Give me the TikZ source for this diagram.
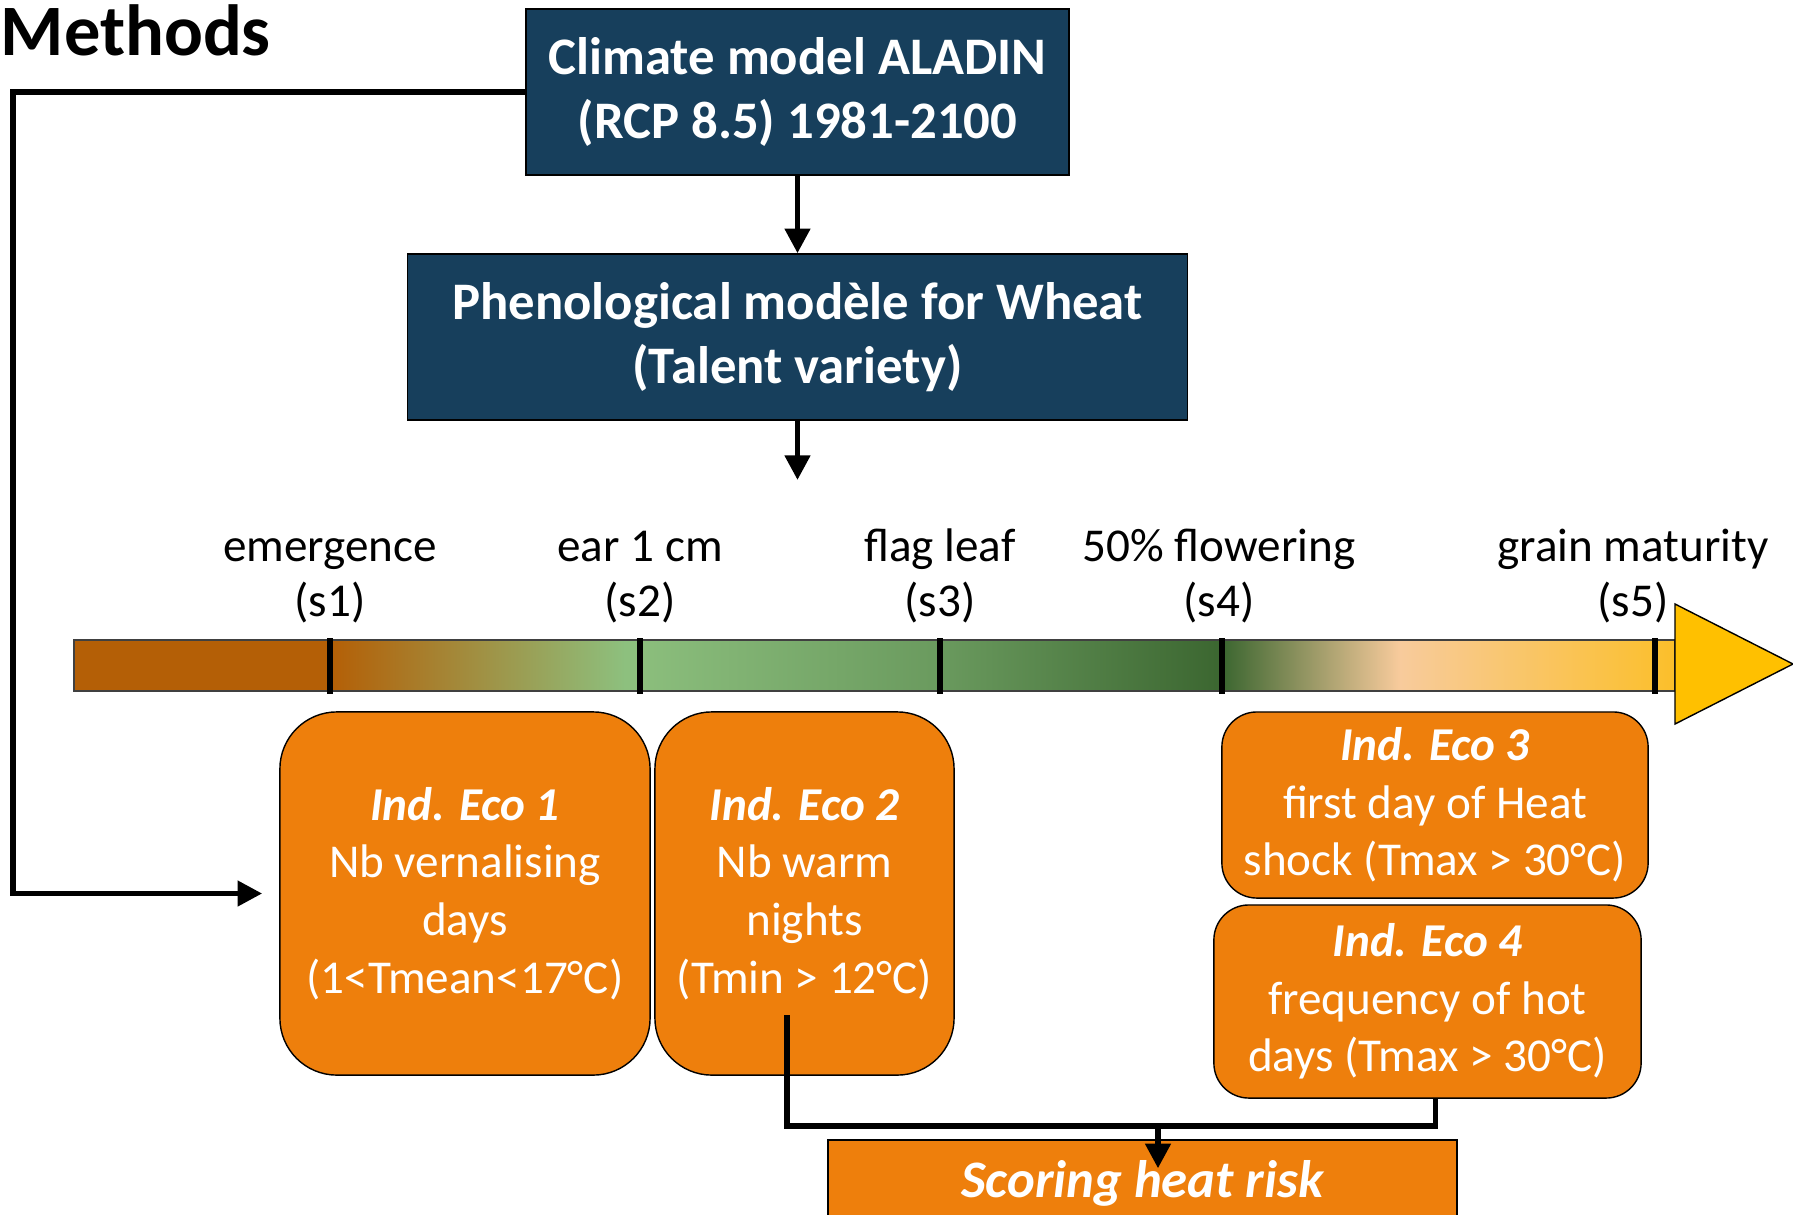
\documentclass[tikz,border=0pt]{standalone}
\usepackage{fontspec}
\setmainfont{Carlito}
\usetikzlibrary{positioning}
\usetikzlibrary{arrows.meta}
\definecolor{modelblue}{HTML}{173F5C}
\definecolor{ecoorange}{HTML}{EE7F0C}
\definecolor{soilbrown}{HTML}{B45F06}
\definecolor{leafgreen}{HTML}{8DC07E}
\definecolor{midgreen}{HTML}{6A9A5E}
\definecolor{darkgreen}{HTML}{3B6630}
\definecolor{peach}{HTML}{F8CB9C}
\definecolor{ripegold}{HTML}{FBBF2A}
\definecolor{arrowgold}{HTML}{FFC000}

\begin{document}
\begin{tikzpicture}[x=0.01cm,y=-0.01cm,
      model/.style={rectangle,draw=black,fill=modelblue,text=white,inner sep=0pt,
        align=center,font=\bfseries\fontsize{15}{18.2}\selectfont},
      indicator/.style={rectangle,draw=black,fill=ecoorange,text=white,inner sep=0pt,
        rounded corners=5.7mm,align=center,font=\fontsize{13.4}{16.4}\selectfont},
      stage/.style={anchor=south,inner sep=0pt,align=center,font=\fontsize{13.4}{15.6}\selectfont},
      stagemark/.style={line width=1.6pt},
      link/.style={line width=1.6pt,-{Triangle[width=7pt,length=7pt]}}]
\useasboundingbox (0,0) rectangle (1793,1214);
\node (title) [anchor=base west,inner sep=0pt,font=\bfseries\fontsize{20.6}{24}\selectfont] at (0,55) {Methods};
\node (climate) [model,minimum width=5.43cm,minimum height=1.66cm] at (797.5,92)
  {Climate model ALADIN\\(RCP 8.5) 1981-2100};
\node (pheno) [model,minimum width=7.79cm,minimum height=1.66cm] at (797.5,337)
  {Phenological modèle for Wheat\\(Talent variety)};
\coordinate (timeline) at (797.5,480);
\draw[link] (climate) -- (pheno);
\draw[link] (pheno) -- (timeline);

\fill[soilbrown] (74,640) rectangle (330,691);
\shade[left color=soilbrown,right color=leafgreen] (330,640) rectangle (625,691);
\shade[left color=leafgreen,right color=midgreen] (625,640) rectangle (940,691);
\shade[left color=midgreen,right color=darkgreen] (940,640) rectangle (1222,691);
\shade[left color=darkgreen,right color=peach] (1222,640) rectangle (1400,691);
\shade[left color=peach,right color=ripegold] (1400,640) rectangle (1675,691);
\draw[black!75,thin] (74,640) rectangle (1675,691);
\draw[black,fill=arrowgold] (1675,604) -- (1793,664) -- (1675,724) -- cycle;
\foreach \x/\lx/\n/\name in {330/330/1/emergence,640/640/2/ear 1 cm,940/940/3/flag leaf,
    1222/1219/4/50\% flowering,1655/1633/5/grain maturity} {
  \draw[stagemark] (\x,638) -- (\x,694);
  \node (s\n) [stage] at (\lx,624) {\name\\(s\n)};
}

\node (eco1) [indicator,minimum width=3.70cm,minimum height=3.63cm] at (465,893.5)
  {\textbf{\textit{Ind. Eco 1}}\\Nb vernalising\\days\\(1<Tmean<17°C)};
\node (eco2) [indicator,minimum width=2.99cm,minimum height=3.63cm] at (804.5,893.5)
  {\textbf{\textit{Ind. Eco 2}}\\Nb warm\\nights\\(Tmin > 12°C)};
\node (eco3) [indicator,rounded corners=3.5mm,minimum width=4.26cm,minimum height=1.86cm] at (1435,805)
  {\textbf{\textit{Ind. Eco 3}}\\first day of Heat\\shock (Tmax > 30°C)};
\node (eco4) [indicator,rounded corners=3.5mm,minimum width=4.27cm,minimum height=1.93cm] at (1427.5,1001.5)
  {\textbf{\textit{Ind. Eco 4}}\\frequency of hot\\days (Tmax > 30°C)};
\node (score) [indicator,rounded corners=0pt,minimum width=6.29cm,minimum height=0.86cm,
  font=\bfseries\itshape\fontsize{15}{18}\selectfont] at (1142.5,1183) {Scoring heat risk};

\draw[link] (climate.west) -- ++(-512,0) |- ([xshift=-0.17cm]eco1.west);
\coordinate (tap) at (787,1015);
\coordinate (join) at (1158,1126);
\coordinate (drop) at ([yshift=-0.29cm]score.north -| join);
\draw[line width=1.6pt] (tap) |- (join) -| ([xshift=0.08cm]eco4.south);
\draw[link] (join) -- (drop);
\end{tikzpicture}
\end{document}
